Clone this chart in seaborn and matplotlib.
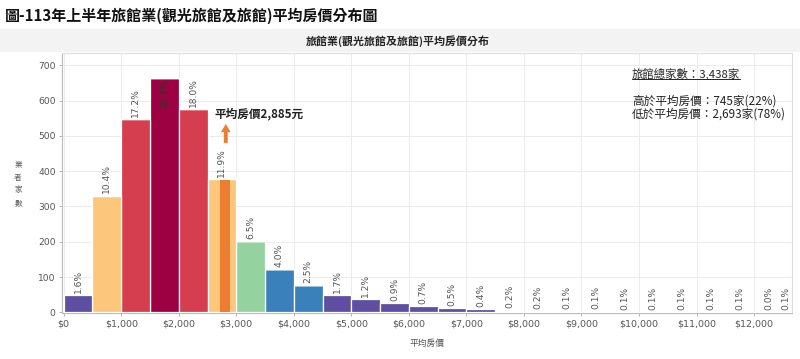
import numpy as np
import pandas as pd
import matplotlib
matplotlib.use("Agg")
import matplotlib.pyplot as plt
from matplotlib.patches import Rectangle
from matplotlib.lines import Line2D
import seaborn as sns

# ---------------- data ----------------
bin_width = 500
bin_starts = list(range(0, 13000, 500))  # 0 .. 12500
counts = [48, 331, 549, 664, 577, 379, 202, 123, 76, 50, 37, 26, 19, 12, 9,
          5, 4, 3, 3, 2, 2, 2, 2, 2, 1, 2]
pct_labels = ["1.6%", "10.4%", "17.2%", "20.7%", "18.0%", "11.9%", "6.5%", "4.0%",
              "2.5%", "1.7%", "1.2%", "0.9%", "0.7%", "0.5%", "0.4%", "0.2%", "0.2%",
              "0.1%", "0.1%", "0.1%", "0.1%", "0.1%", "0.1%", "0.1%", "0.0%", "0.1%"]
groups = ["g0", "g1", "g2", "g3", "g2", "g1", "g4", "g5", "g5"] + ["g0"] * 17
palette = {"g0": "#5E4FA2", "g1": "#FCC77A", "g2": "#D53E4F", "g3": "#9E0142",
           "g4": "#94D3A0", "g5": "#3A80BA"}
mean_price = 2885
mean_color = "#ED7D31"
x_ticks = list(range(0, 13000, 1000))
x_ticklabels = ["$0"] + [f"${v:,}" for v in x_ticks[1:]]
y_ticks = [0, 100, 200, 300, 400, 500, 600, 700]

title = "圖-113年上半年旅館業(觀光旅館及旅館)平均房價分布圖"
subtitle = "旅館業(觀光旅館及旅館)平均房價分布"
x_label = "平均房價"
y_label = "業者家數"
mean_text = "平均房價2,885元"
info_total = "旅館總家數：3,438家"
info_high = "高於平均房價：745家(22%)"
info_low = "低於平均房價：2,693家(78%)"

# ---------------- plot ----------------
sns.set_theme(style="white")
plt.rcParams["font.family"] = ["DejaVu Sans", "Noto Sans CJK TC"]
CJK = ["Noto Sans CJK TC", "DejaVu Sans"]

fig = plt.figure(figsize=(8, 3.59), dpi=100)
ax = fig.add_axes([62 / 800, 1 - 313 / 359, (792 - 62) / 800, (313 - 53) / 359])

df = pd.DataFrame({"x": [s + bin_width / 2 for s in bin_starts],
                   "count": counts, "grp": groups})
edges = bin_starts + [bin_starts[-1] + bin_width]
sns.histplot(data=df, x="x", weights="count", hue="grp", bins=edges,
             multiple="stack", palette=palette, alpha=1, edgecolor="white",
             linewidth=0.9, legend=False, ax=ax, zorder=3)

# mean marker strip inside the mean bin
mean_idx = int(mean_price // bin_width)
ax.bar(mean_price - 160, counts[mean_idx] - 4, width=160, align="edge",
       color=mean_color, edgecolor="none", zorder=4)

ymax = 735
ax.set_xlim(-30, 12660)
ax.set_ylim(-2, ymax)

# percentage labels
xmax = ax.get_xlim()[1]
for s, c, lab in zip(bin_starts, counts, pct_labels):
    xc = min(s + bin_width / 2, xmax - 110)
    if c + 85 > ymax:
        ax.annotate(lab, (xc, c), xytext=(0, -1), textcoords="offset points",
                    rotation=90, ha="center", va="top", fontsize=6.6,
                    color="#333333", zorder=5)
    else:
        ax.annotate(lab, (xc, c), xytext=(0, 1.5), textcoords="offset points",
                    rotation=90, ha="center", va="bottom", fontsize=6.6,
                    color="#555555", zorder=5)

# mean annotation
ax.text(mean_price - 270, 562, mean_text, family=CJK, fontsize=8.4,
        fontweight="bold", color="#222222", va="center", ha="left", zorder=6)
ax.annotate("", xy=(mean_price - 68, 534), xytext=(mean_price - 68, 480),
            arrowprops=dict(arrowstyle="simple,head_length=0.6,head_width=0.7,tail_width=0.28",
                            color=mean_color, mutation_scale=10, lw=0,
                            shrinkA=0, shrinkB=0), zorder=6)

# axes styling
ax.set_xticks(x_ticks)
ax.set_xticklabels(x_ticklabels, fontsize=6.8, color="#555555")
ax.set_yticks(y_ticks)
ax.set_yticklabels([str(v) for v in y_ticks], fontsize=6.6, color="#555555")
ax.tick_params(axis="both", which="both", length=2.5, width=0.6, color="#aaaaaa", pad=2,
               bottom=True, left=True)
ax.grid(True, color="#ececec", linewidth=0.7, zorder=0)
ax.set_axisbelow(True)
for side in ["top", "right"]:
    ax.spines[side].set_visible(True)
    ax.spines[side].set_color("#dddddd")
    ax.spines[side].set_linewidth(0.8)
for side in ["left", "bottom"]:
    ax.spines[side].set_color("#bbbbbb")
    ax.spines[side].set_linewidth(0.8)
ax.set_xlabel(x_label, family=CJK, fontsize=6.3, color="#555555", labelpad=8)
ax.set_ylabel("")
fig.text(18 / 800, 1 - 184 / 359, "\n".join(y_label), family=CJK, fontsize=5.5,
         color="#555555", ha="center", va="center", linespacing=1.75, rotation=0)

# title, band, subtitle
fig.text(5 / 800, 1 - 16 / 359, title, family=CJK, fontsize=10.8, fontweight="bold",
         color="#111111", ha="left", va="center")
fig.patches.append(Rectangle((0, 1 - 52 / 359), 1, 23 / 359, transform=fig.transFigure,
                             facecolor="#f3f3f3", edgecolor="none", zorder=0))
fig.text(398 / 800, 1 - 41 / 359, subtitle, family=CJK, fontsize=7.9, fontweight="bold",
         color="#222222", ha="center", va="center")

# info text
t_total = fig.text(632 / 800, 1 - 74 / 359, info_total, family=CJK, fontsize=8.2,
                   color="#222222", ha="left", va="center")
fig.text(632 / 800, 1 - 101 / 359, info_high, family=CJK, fontsize=8.4,
         color="#222222", ha="left", va="center")
fig.text(632 / 800, 1 - 114 / 359, info_low, family=CJK, fontsize=8.4,
         color="#222222", ha="left", va="center")
fig.canvas.draw()
bb = t_total.get_window_extent().transformed(fig.transFigure.inverted())
fig.lines.append(Line2D([bb.x0, bb.x1], [bb.y0 + 0.003, bb.y0 + 0.003],
                        transform=fig.transFigure, color="#222222", linewidth=0.7))

fig.savefig("out.png", dpi=100)
